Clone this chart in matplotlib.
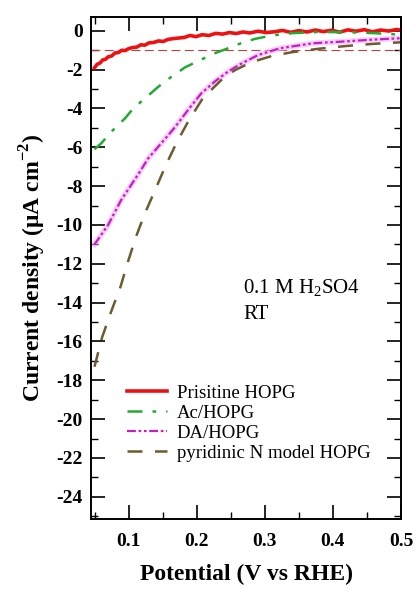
import matplotlib.pyplot as plt
from matplotlib.ticker import MultipleLocator

# Pristine HOPG (noisy trace)
v_pris = [0.050, 0.054, 0.058, 0.062, 0.066, 0.070, 0.075, 0.080, 0.085, 0.090,
          0.095, 0.100, 0.106, 0.112, 0.118, 0.124, 0.130, 0.137, 0.144, 0.151,
          0.158, 0.166, 0.174, 0.182, 0.190, 0.199, 0.208, 0.218, 0.228, 0.238,
          0.248, 0.258, 0.268, 0.278, 0.290, 0.302, 0.314, 0.326, 0.338, 0.350,
          0.362, 0.374, 0.386, 0.398, 0.410, 0.422, 0.434, 0.446, 0.458, 0.470,
          0.482, 0.494, 0.500]
j_pris = [-1.90, -1.72, -1.66, -1.50, -1.47, -1.34, -1.30, -1.14, -1.12, -1.00,
          -1.02, -0.92, -0.86, -0.84, -0.72, -0.74, -0.62, -0.60, -0.52, -0.55,
          -0.44, -0.40, -0.37, -0.34, -0.24, -0.30, -0.20, -0.24, -0.13, -0.17,
          -0.09, -0.14, -0.06, -0.11, -0.02, -0.09, -0.05, 0.02, -0.08, 0.01,
          -0.06, 0.04, -0.04, 0.03, -0.07, 0.05, -0.02, 0.06, -0.05, 0.04,
          -0.01, 0.07, 0.03]

# Ac/HOPG
v_ac = [0.050, 0.060, 0.074, 0.095, 0.107, 0.126, 0.143, 0.162, 0.183, 0.205,
        0.227, 0.246, 0.265, 0.285, 0.310, 0.340, 0.380, 0.420, 0.460, 0.500]
j_ac = [-6.1, -5.79, -5.22, -4.50, -3.99, -3.42, -2.90, -2.39, -1.88, -1.51,
        -1.15, -0.90, -0.64, -0.42, -0.24, -0.12, -0.06, -0.07, -0.12, -0.2]

# DA/HOPG
v_da = [0.050, 0.070, 0.089, 0.114, 0.129, 0.148, 0.168, 0.187, 0.207, 0.227,
        0.246, 0.265, 0.290, 0.322, 0.371, 0.421, 0.460, 0.500]
j_da = [-11.0, -10.0, -8.72, -7.40, -6.56, -5.79, -4.97, -4.09, -3.21, -2.60,
        -2.10, -1.70, -1.25, -0.90, -0.64, -0.54, -0.45, -0.38]

# pyridinic N model HOPG
v_pyr = [0.050, 0.061, 0.074, 0.088, 0.099, 0.111, 0.124, 0.139, 0.155, 0.170,
         0.187, 0.209, 0.236, 0.256, 0.280, 0.310, 0.340, 0.380, 0.420, 0.460,
         0.500]
j_pyr = [-17.3, -15.8, -14.5, -13.2, -11.9, -10.6, -9.4, -8.2, -6.9, -5.8,
         -4.7, -3.47, -2.54, -2.03, -1.62, -1.30, -1.10, -0.92, -0.78, -0.67,
         -0.59]

serif = ['Liberation Serif', 'DejaVu Serif']
plt.rcParams['font.family'] = serif
plt.rcParams['axes.unicode_minus'] = False
plt.rcParams['mathtext.fontset'] = 'custom'
plt.rcParams['mathtext.rm'] = 'Liberation Serif'
plt.rcParams['mathtext.bf'] = 'Liberation Serif:bold'

fig = plt.figure(figsize=(4.16, 5.94), dpi=100)
ax = fig.add_axes([0.219, 0.126, 0.745, 0.845])

ax.axhline(-1, color='#c04040', lw=0.8, ls=(0, (8, 4)))
ax.plot(v_pris, j_pris, color='#ee1111', lw=2.6, label='Prisitine HOPG')
ax.plot(v_ac, j_ac, color='#22aa33', lw=1.8, ls=(0, (6, 4, 1.5, 4)), label='Ac/HOPG')
ax.plot(v_da, j_da, color='#f4b0f4', lw=4, alpha=0.6)
ax.plot(v_da, j_da, color='#c020c0', lw=1.6, ls=(0, (4, 1.2, 1.2, 1.2, 1.2, 1.2)), label='DA/HOPG')
ax.plot(v_pyr, j_pyr, color='#6e5a30', lw=1.8, ls=(0, (6, 5)), label='pyridinic N model HOPG')

ax.set_xlim(0.045, 0.5)
ax.set_ylim(-25.15, 0.7)
ax.xaxis.set_major_locator(MultipleLocator(0.1))
ax.xaxis.set_minor_locator(MultipleLocator(0.05))
ax.yaxis.set_major_locator(MultipleLocator(2))
ax.yaxis.set_minor_locator(MultipleLocator(1))
ax.tick_params(which='both', direction='in', top=True, right=True)
ax.tick_params(which='major', length=10, width=1.2)
ax.tick_params(which='minor', length=5, width=1.0)
ax.tick_params(axis='x', which='major', pad=10)
ax.tick_params(axis='y', which='major', pad=6)
for lab in ax.get_xticklabels() + ax.get_yticklabels():
    lab.set_fontweight('bold')
    lab.set_fontsize(14)
for s in ax.spines.values():
    s.set_linewidth(1.4)

ax.set_xlabel('Potential (V vs RHE)', fontsize=17, fontweight='bold', labelpad=10)
ax.set_ylabel('Current density (\u03bcA cm$^{\\mathbf{-2}}$)', fontsize=17,
              fontweight='bold', labelpad=6)

ax.text(0.268, -13.5, '0.1 M H$_2$SO4', fontsize=15)
ax.text(0.268, -14.85, 'RT', fontsize=15)

ax.legend(loc='upper left', bbox_to_anchor=(0.08, 0.29), frameon=False,
          fontsize=13.5, handlelength=2.1, labelspacing=0.15, borderpad=0.1,
          handletextpad=0.55)

fig.savefig('out.png', dpi=100)
